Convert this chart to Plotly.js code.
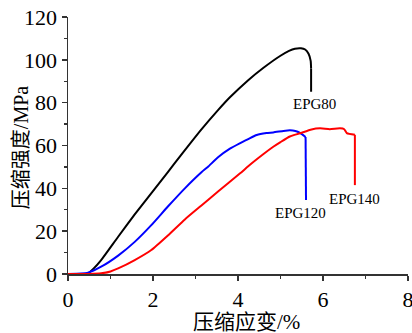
<!DOCTYPE html>
<html><head><meta charset="utf-8">
<script src="https://cdn.plot.ly/plotly-3.0.1.min.js"></script>
<style>html,body{margin:0;padding:0;background:#fff;}#chart{width:412px;height:333px;}</style>
</head><body><div id="chart"></div>
<script>
const epg80X = [0, 0.3, 0.47, 0.6, 0.78, 1.18, 1.57, 2.35, 2.64, 3.14, 3.53, 3.81, 4.24, 4.6, 4.99, 5.2, 5.34, 5.48, 5.58, 5.66, 5.71, 5.72, 5.72];
const epg80Y = [0, 0, 0.3, 2.5, 6.5, 17.4, 27.8, 47.6, 55, 67.5, 76.5, 82.5, 90.5, 96.3, 101.8, 104.2, 105.2, 105.4, 104.8, 102.8, 99.5, 96, 85.1];
const epg120X = [0, 0.3, 0.47, 0.78, 1.18, 1.57, 1.96, 2.35, 2.75, 3.14, 3.29, 3.53, 3.81, 4.04, 4.24, 4.44, 4.67, 4.83, 5.07, 5.22, 5.35, 5.46, 5.59, 5.60];
const epg120Y = [0, 0.2, 0.6, 3.4, 8.6, 15, 22.8, 31.5, 40, 47.5, 50, 54.5, 58.5, 61, 63, 64.9, 65.8, 66.1, 66.8, 67.1, 66.8, 65.9, 64.0, 34.6];
const epg140X = [0, 0.5, 0.78, 1.0, 1.18, 1.57, 1.96, 2.35, 2.75, 3.14, 3.53, 4.05, 4.24, 4.6, 4.83, 5.0, 5.22, 5.46, 5.73, 5.93, 6.16, 6.40, 6.5, 6.56, 6.75, 6.75];
const epg140Y = [0, 0, 0.3, 1.2, 2.6, 6.5, 11.2, 18, 25.5, 32, 38.5, 47, 50.3, 56, 59.4, 61.6, 64.2, 65.7, 67.5, 68, 67.6, 68, 67.6, 65.8, 65.0, 41.5];
const labels = ['EPG80', 'EPG120', 'EPG140'];
const labelX = [5.8, 5.48, 6.73];
const labelY = [79.4, 28.7, 35];
const colors = ['#000000', '#0000ff', '#ff0000'];
const xTitle = '压缩应变/%';
const yTitle = '压缩强度/MPa';

const serif = 'Liberation Serif';
const series = [[epg80X, epg80Y], [epg120X, epg120Y], [epg140X, epg140Y]];
const traces = [];
series.forEach(([xs, ys], i) => {
  const n = xs.length;
  traces.push({x: xs.slice(0, n - 1), y: ys.slice(0, n - 1), name: labels[i], mode: 'lines',
    line: {color: colors[i], width: 2, shape: 'spline', smoothing: 0.5}, hoverinfo: 'skip'});
  traces.push({x: xs.slice(n - 2), y: ys.slice(n - 2), name: labels[i], mode: 'lines',
    line: {color: colors[i], width: 2}, hoverinfo: 'skip'});
});
const annotations = labels.map((t, i) => ({
  x: labelX[i], y: labelY[i], text: t, showarrow: false,
  font: {family: serif, size: 15, color: '#000'}, xanchor: 'center', yanchor: 'middle'
}));
annotations.push({xref: 'paper', yref: 'paper', x: 0.524, y: -0.187, text: xTitle, showarrow: false,
  font: {family: serif + ', Noto Sans CJK SC', size: 21, color: '#000'}, xanchor: 'center', yanchor: 'middle'});
annotations.push({xref: 'paper', yref: 'paper', x: -0.138, y: 0.49, text: yTitle, showarrow: false, textangle: -90,
  font: {family: serif + ', Noto Sans CJK SC', size: 20, color: '#000'}, xanchor: 'center', yanchor: 'middle'});
const axisCommon = {
  showgrid: false, zeroline: false, showline: true, linecolor: '#333', linewidth: 1.5,
  ticks: 'outside', ticklen: 5, tickwidth: 1.5, tickcolor: '#333',
  tickfont: {family: serif, size: 22, color: '#000'}, ticklabeloverflow: 'allow'
};
const layout = {
  width: 412, height: 333,
  margin: {l: 68, r: 4, t: 17, b: 59},
  font: {family: serif, color: '#000'},
  paper_bgcolor: '#fff', plot_bgcolor: '#fff',
  showlegend: false,
  xaxis: Object.assign({}, axisCommon, {
    range: [0, 8], dtick: 2, tick0: 0,
    minor: {ticks: 'outside', ticklen: 3, tickwidth: 1.2, tickcolor: '#333', dtick: 1}
  }),
  yaxis: Object.assign({}, axisCommon, {
    range: [0, 120], dtick: 20, tick0: 0,
    minor: {ticks: 'outside', ticklen: 3, tickwidth: 1.2, tickcolor: '#333', dtick: 10}
  }),
  annotations: annotations
};
Plotly.newPlot('chart', traces, layout, {displayModeBar: false, staticPlot: true});
</script>
</body></html>
